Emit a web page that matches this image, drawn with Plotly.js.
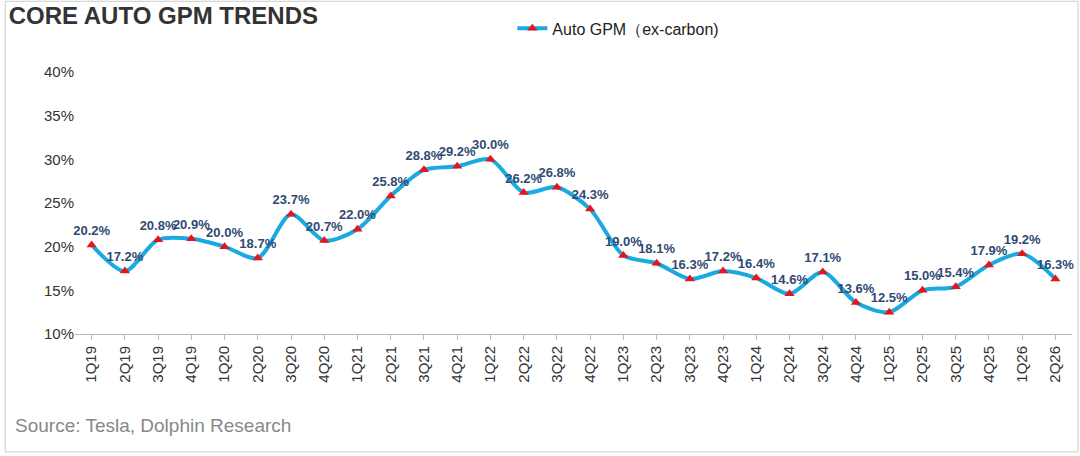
<html><head><script src="https://cdn.plot.ly/plotly-3.0.1.min.js"></script></head>
<body style="margin:0"><div id="plot-area" style="width:1080px;height:456px"></div>
<script>
const quarters = ["1Q19","2Q19","3Q19","4Q19","1Q20","2Q20","3Q20","4Q20","1Q21","2Q21","3Q21","4Q21","1Q22","2Q22","3Q22","4Q22","1Q23","2Q23","3Q23","4Q23","1Q24","2Q24","3Q24","4Q24","1Q25","2Q25","3Q25","4Q25","1Q26","2Q26"]
const autoGpm = [20.2,17.2,20.8,20.9,20.0,18.7,23.7,20.7,22.0,25.8,28.8,29.2,30.0,26.2,26.8,24.3,19.0,18.1,16.3,17.2,16.4,14.6,17.1,13.6,12.5,15.0,15.4,17.9,19.2,16.3]
const yTicks = [10,15,20,25,30,35,40]

const trace = {
  name: "Auto GPM（ex-carbon)",
  x: quarters,
  y: autoGpm,
  type: "scatter",
  mode: "lines+markers+text",
  line: {color: "#1aa9e1", width: 4, shape: "spline", smoothing: 0.8},
  marker: {symbol: "triangle-up", color: "#e8141b", size: 9},
  text: autoGpm.map(v => v.toFixed(1) + "%"),
  textposition: "top center",
  textfont: {family: "Liberation Sans, Arial", size: 13, color: "#2f4a73", weight: "bold"},
  cliponaxis: false
}

Plotly.newPlot("plot-area", [trace], {
  width: 1080, height: 456,
  margin: {l: 75, r: 8, t: 72, b: 122, autoexpand: false},
  paper_bgcolor: "white", plot_bgcolor: "white",
  font: {family: "Liberation Sans, Arial", color: "#404040"},
  title: {text: "<b>CORE AUTO GPM TRENDS</b>", x: 0.008, xanchor: "left", y: 0.985, yanchor: "top", yref: "container", font: {size: 24, color: "#333"}},
  showlegend: true,
  legend: {orientation: "h", x: 0.545, xanchor: "center", yref: "container", y: 0.975, yanchor: "top", font: {size: 16, color: "#222"}},
  xaxis: {tickangle: -90, tickfont: {size: 15, color: "#333"}, showgrid: false, showline: true, linecolor: "#bbb", ticks: "outside", tickcolor: "#bbb", ticklen: 5, range: [-0.5, 29.5]},
  yaxis: {range: [10, 40], tickvals: yTicks, ticktext: yTicks.map(v => v + "%"), tickfont: {size: 15, color: "#333"}, showgrid: false, zeroline: false, showline: false},
  annotations: [
    {text: "Source: Tesla, Dolphin Research", xref: "paper", yref: "paper", x: -0.062, y: -0.3, xanchor: "left", yanchor: "top", showarrow: false, font: {size: 19, color: "#888"}}
  ],
  shapes: [{type: "rect", xref: "paper", yref: "paper", x0: -0.07, x1: 1.006, y0: -0.45, y1: 1.27, line: {color: "#ccc", width: 1}}]
}, {displayModeBar: false})
</script></body></html>
